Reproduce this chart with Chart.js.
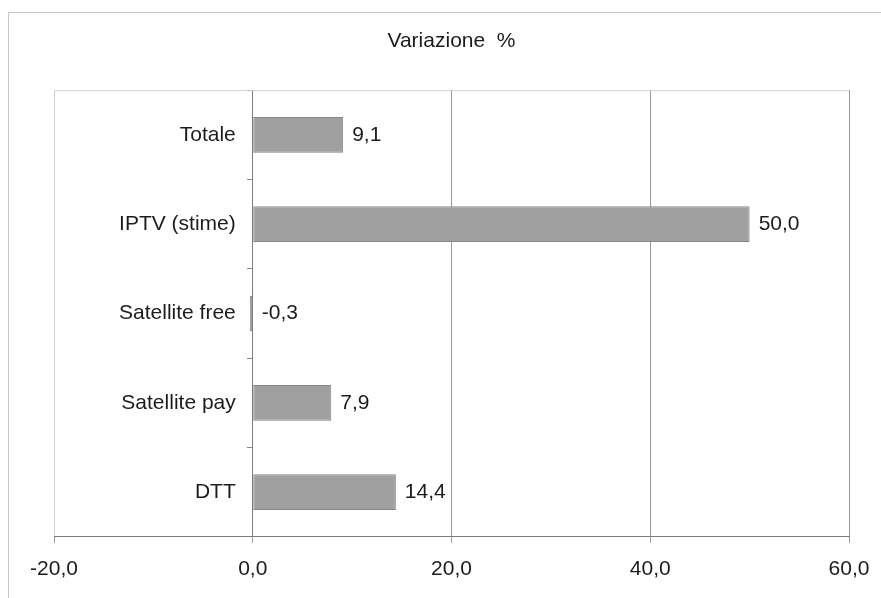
<!DOCTYPE html>
<html>
<head>
<meta charset="utf-8">
<script src="https://cdn.jsdelivr.net/npm/chart.js@4"></script>
<style>
  html, body { margin: 0; padding: 0; background: #fff; }
  #wrap { position: relative; width: 881px; height: 598px; overflow: hidden; }
  #frame { position: absolute; left: 8px; top: 12px; width: 900px; height: 620px;
           border-top: 1px solid #c2c2c2; border-left: 1px solid #c8c8c8; }
  #c { position: absolute; left: 0; top: 0; }
</style>
</head>
<body>
<div id="wrap">
  <div id="frame"></div>
  <canvas id="c" width="881" height="598"></canvas>
</div>
<script>
// Categories and percentage change values
const categories = ['Totale', 'IPTV (stime)', 'Satellite free', 'Satellite pay', 'DTT'];
const variazione = [9.1, 50.0, -0.3, 7.9, 14.4];
const xTicks = [-20, 0, 20, 40, 60];
const titleText = 'Variazione  %';

const FONT = '"Liberation Sans", Arial, sans-serif';
const FONT_SIZE = 21;
const TEXT = '#1c1c1c';
const fmt = v => v.toFixed(1).replace('.', ',');

// Light frame along the top of the plot area
const plotFrame = {
  id: 'plotFrame',
  beforeDatasetsDraw(chart) {
    const a = chart.chartArea, ctx = chart.ctx;
    ctx.save();
    ctx.strokeStyle = '#d2d2d2';
    ctx.lineWidth = 1;
    ctx.beginPath();
    ctx.moveTo(a.left, a.top + 0.5);
    ctx.lineTo(a.right, a.top + 0.5);
    ctx.stroke();
    ctx.restore();
  }
};

// Category names, right-aligned just left of the zero line
const categoryLabels = {
  id: 'categoryLabels',
  afterDraw(chart) {
    const ctx = chart.ctx;
    const y = chart.scales.y;
    const x0 = chart.scales.x.getPixelForValue(0);
    ctx.save();
    ctx.font = FONT_SIZE + 'px ' + FONT;
    ctx.fillStyle = TEXT;
    ctx.textBaseline = 'middle';
    ctx.textAlign = 'right';
    chart.data.labels.forEach((lab, i) => {
      ctx.fillText(lab, x0 - 17, y.getPixelForValue(i));
    });
    ctx.restore();
  }
};

// Value labels to the right of each bar (or of the zero line for negatives)
const valueLabels = {
  id: 'valueLabels',
  afterDatasetsDraw(chart) {
    const ctx = chart.ctx;
    const meta = chart.getDatasetMeta(0);
    const x0 = chart.scales.x.getPixelForValue(0);
    ctx.save();
    ctx.font = FONT_SIZE + 'px ' + FONT;
    ctx.fillStyle = TEXT;
    ctx.textBaseline = 'middle';
    ctx.textAlign = 'left';
    meta.data.forEach((bar, i) => {
      const v = chart.data.datasets[0].data[i];
      const x = Math.max(bar.x, x0) + 9;
      ctx.fillText(fmt(v), x, bar.y);
    });
    ctx.restore();
  }
};

new Chart(document.getElementById('c'), {
  type: 'bar',
  data: {
    labels: categories,
    datasets: [{
      data: variazione,
      backgroundColor: '#a0a0a0',
      borderColor: '#858585',
      borderWidth: 1,
      borderSkipped: false,
      categoryPercentage: 1.0,
      barPercentage: 0.4
    }]
  },
  options: {
    indexAxis: 'y',
    responsive: false,
    animation: false,
    layout: { autoPadding: false, padding: { left: 54, right: 32, top: 0, bottom: 2 } },
    plugins: {
      legend: { display: false },
      tooltip: { enabled: false },
      title: {
        display: true,
        text: titleText,
        color: TEXT,
        font: { family: FONT, size: FONT_SIZE, weight: 'normal', lineHeight: 1.2 },
        padding: { top: 29, bottom: 36 }
      }
    },
    scales: {
      x: {
        type: 'linear',
        min: -20, max: 60,
        afterBuildTicks: s => { s.ticks = xTicks.map(v => ({ value: v })); },
        afterFit: s => { s.paddingLeft = 0; s.paddingRight = 0; },
        ticks: {
          color: TEXT,
          font: { family: FONT, size: FONT_SIZE },
          padding: 14,
          callback: v => fmt(v)
        },
        grid: {
          color: ctx => ctx.tick && ctx.tick.value === -20 ? '#d0d0d0' : '#9a9a9a',
          tickColor: '#9a9a9a',
          tickLength: 6,
          lineWidth: 1
        },
        border: { display: true, color: '#7c7c7c', width: 1 }
      },
      y: {
        position: { x: 0 },
        ticks: { display: false },
        grid: {
          drawOnChartArea: false,
          drawTicks: true,
          tickLength: 5,
          tickColor: '#8a8a8a'
        },
        border: { display: true, color: '#7c7c7c', width: 1 }
      }
    }
  },
  plugins: [plotFrame, categoryLabels, valueLabels]
});
</script>
</body>
</html>
